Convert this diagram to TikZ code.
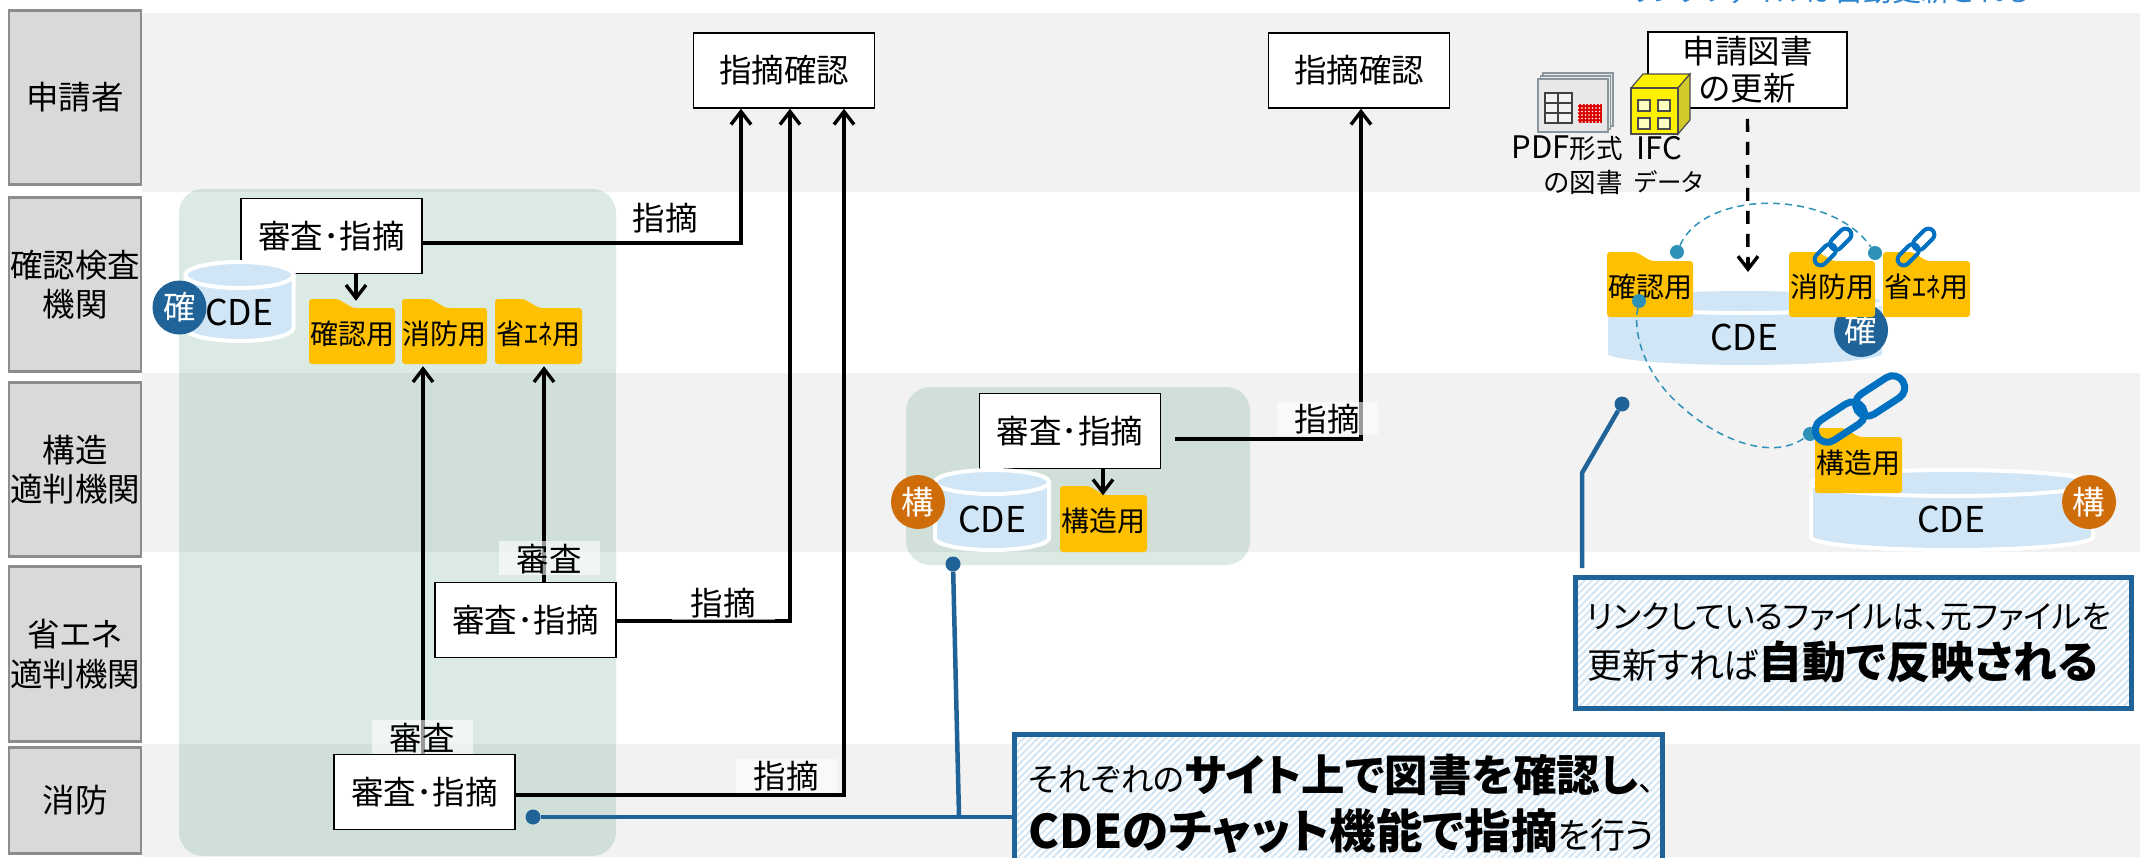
\documentclass[tikz,border=0pt]{standalone}
\usepackage{fontspec}
\setmainfont{Noto Sans CJK JP}[RawFeature=+palt]
\usetikzlibrary{arrows.meta,patterns.meta,calc}
\definecolor{bandgray}{HTML}{F2F2F2}
\definecolor{labelgray}{HTML}{D9D9D9}
\definecolor{labeledge}{HTML}{8C8C8C}
\definecolor{panelgreen}{RGB}{80,150,120}
\definecolor{cylblue}{HTML}{D0E5F5}
\definecolor{leadblue}{HTML}{1F6398}
\definecolor{kakuninblue}{HTML}{1F6398}
\definecolor{kozoorange}{HTML}{CE6D0A}
\definecolor{folderyellow}{HTML}{FFC000}
\definecolor{arcblue}{HTML}{2E91B8}
\definecolor{chainblue}{HTML}{0070C0}
\definecolor{hatchblue}{HTML}{D3E6F5}
\definecolor{topblue}{HTML}{2E86D0}
\definecolor{iconedge}{HTML}{8A979E}
\newcommand{\lat}[1]{{\fontsize{31pt}{34pt}\selectfont #1}}
\tikzset{
  txt/.style={font=\fontsize{32.5pt}{37pt}\selectfont,text=black,align=center,inner sep=0pt},
  laneband/.style={fill=bandgray,draw=none},
  lanelabel/.style={txt,font=\fontsize{32.5pt}{39.5pt}\selectfont,fill=labelgray,draw=labeledge,line width=2.5pt,minimum width=132pt},
  panel/.style={fill=panelgreen,fill opacity=.2,draw=none,rounded corners=24pt},
  stepbox/.style={txt,fill=white,draw=black,line width=1.5pt,minimum width=181pt,minimum height=75pt},
  arr/.style={line width=3.4pt,-{Straight Barb[length=13pt,width=20pt,line width=3.4pt]}},
  tag/.style={txt,minimum width=101pt,minimum height=33pt},
  tagbg/.style={fill=white,fill opacity=.6,draw=none},
  cyltext/.style={txt,font=\fontsize{35.5pt}{37pt}\selectfont},
  badge/.style={circle,minimum size=54pt,inner sep=0pt,font=\fontsize{32.5pt}{37pt}\selectfont,text=white},
  foldertext/.style={font=\fontsize{28pt}{30pt}\selectfont,text=black,inner sep=0pt},
  leadline/.style={line width=4.5pt,draw=leadblue},
  leaddot/.style={circle,fill=leadblue,minimum size=15pt,inner sep=0pt},
  arcline/.style={draw=arcblue,line width=1.5pt,dash pattern=on 7pt off 5pt},
  arcdot/.style={circle,fill=arcblue,minimum size=14pt,inner sep=0pt},
  callout/.style={draw=leadblue,line width=5pt,preaction={fill=white},
    pattern={Lines[angle=45,distance=5pt,line width=2pt]},pattern color=hatchblue,
    align=left,text=black},
  smalltxt/.style={font=\fontsize{26.5pt}{34pt}\selectfont,text=black,inner sep=0pt},
}
\newcommand{\cdecyl}[5]{% cx, top y, bottom y, rx, ry
  \path[fill=cylblue,draw=white,line width=4pt]
    ({#1-#4},#2) -- ({#1-#4},#3) arc[start angle=180,end angle=360,x radius=#4,y radius=-#5]
    -- ({#1+#4},#2) -- cycle;
  \path[fill=cylblue,draw=white,line width=4pt] (#1,#2) ellipse[x radius=#4,y radius=#5];
}
\newcommand{\filefolder}[6]{% name, x1,y1,x2,y2, text
  \fill[folderyellow,rounded corners=3pt] (#2,#3) -- ({#2+29},#3) -- ({#2+44},{#3+9}) -- (#4,{#3+9}) -- (#4,#5) -- (#2,#5) -- cycle;
  \node[foldertext,minimum width={(#4-#2)*1pt},minimum height={(#5-#3)*1pt}] (#1) at ({(#2+#4)/2},{(#3+#5)/2+2}) {#6};
}
\newcommand{\chainicon}[7]{% cx,cy,angle,lw,L,W,d
  \begin{scope}[shift={(#1,#2)},rotate=#3]
    \draw[chainblue,line width=#4pt,rounded corners={#6*0.5pt}] ({-#7-#5/2},{-#6/2}) rectangle ({-#7+#5/2},{#6/2});
    \draw[chainblue,line width=#4pt,rounded corners={#6*0.5pt}] ({#7-#5/2},{-#6/2}) rectangle ({#7+#5/2},{#6/2});
  \end{scope}
}
\begin{document}
\begin{tikzpicture}[x=1pt,y=-1pt]
\useasboundingbox (0,0) rectangle (2140,857);
\clip (0,0) rectangle (2140,857);
\fill[white] (0,0) rectangle (2140,857);
% lanes
\path[laneband] (142,13) rectangle (2140,192);
\path[laneband] (142,373) rectangle (2140,552);
\path[laneband] (142,744) rectangle (2140,857);
\node[lanelabel,minimum height=174pt] (l1) at (75,97.5) {申請者};
\node[lanelabel,minimum height=174pt] (l2) at (75,284.5) {確認検査\\機関};
\node[lanelabel,minimum height=174pt] (l3) at (75,469.5) {構造\\適判機関};
\node[lanelabel,minimum height=175pt] (l4) at (75,654) {省エネ\\適判機関};
\node[lanelabel,minimum height=106pt] (l5) at (75,800.5) {消防};
% top clipped note
\node[font=\fontsize{29pt}{33pt}\selectfont,text=topblue,inner sep=0pt] (note) at (1830,-9.5) {リンクファイルは自動更新される};
% green panels
\path[panel] (179,189) rectangle (616,856);
\path[panel] (906,387) rectangle (1250,565);
% review boxes
\node[stepbox] (conf1) at (784,70.5) {指摘確認};
\node[stepbox] (conf2) at (1359,70.5) {指摘確認};
\node[stepbox] (boxa) at (331.5,236) {審査･指摘};
\node[stepbox] (boxb) at (525.5,620) {審査･指摘};
\node[stepbox] (boxc) at (424.5,792) {審査･指摘};
\node[stepbox] (boxd) at (1070,431) {審査･指摘};
\node[txt,fill=white,draw=black,line width=1.5pt,minimum width=199pt,minimum height=76pt] (upd) at (1747.5,70) {申請図書\\の更新};
% cylinder, left
\cdecyl{239.5}{275}{328}{54}{13}
\node[cyltext] (cdea) at (239,312) {CDE};
\node[badge,fill=kakuninblue] (ba) at (179.5,307.5) {確};
\filefolder{fa}{309}{299}{395}{364}{確認用}
\filefolder{fb}{402}{299}{487}{364}{消防用}
\filefolder{fc}{495}{299}{582}{364}{省ｴﾈ用}
% cylinder, middle
\cdecyl{992}{482}{538}{57}{12}
\node[cyltext] (cdeb) at (992,519) {CDE};
\node[badge,fill=kozoorange] (bb) at (918,502) {構};
\filefolder{fd}{1060}{486}{1147}{552}{構造用}
% connectors
\draw[arr] ([xshift=4pt]fa.north |- boxa.south) -- ([xshift=4pt]fa.north);
\draw[arr] ([xshift=-1.5pt]boxc.north) -- ([xshift=-1.5pt]boxc.north |- fb.south);
\draw[arr] ([xshift=18.5pt]boxb.north) -- ([xshift=18.5pt]boxb.north |- fc.south);
\draw[arr] ([yshift=-7pt]boxa.east) -| ([xshift=-43pt]conf1.south);
\draw[arr] ([yshift=-1pt]boxb.east) -| ([xshift=6pt]conf1.south);
\draw[arr] ([yshift=-3pt]boxc.east) -| ([xshift=60pt]conf1.south);
\draw[arr] ([xshift=33pt]boxd.south) -- ++(0,26);
\draw[arr] ([xshift=14pt,yshift=-8pt]boxd.east) -| ([xshift=2pt]conf2.south);
% tags
\path[tagbg] (1277,402) rectangle (1378,435);
\node[tag] (t1) at (1327,419) {指摘};
\node[tag] (t2) at (665,218) {指摘};
\path[tagbg] (672,584) rectangle (775,620);
\node[tag] (t3) at (723,603) {指摘};
\path[tagbg] (736,759) rectangle (837,793);
\node[tag] (t4) at (786,776) {指摘};
\path[tagbg] (499,541) rectangle (600,575);
\node[tag] (t5) at (549,559) {審査};
\path[tagbg] (372,720) rectangle (473,754);
\node[tag] (t6) at (422,738) {審査};
% icons
\foreach \d in {5,2.5,0}{
  \path[fill=gray!18,draw=iconedge,line width=1.2pt] ({1538+\d},{79-\d*1.2}) rectangle ({1608+\d},{132-\d*1.2});
}
\draw[draw=black!75,fill=gray!10,line width=1.6pt] (1545,93) rectangle (1572,123);
\draw[black!75,line width=1.2pt] (1545,103) -- (1572,103) (1545,113) -- (1572,113) (1558,93) -- (1558,123);
\fill[red!85!black] (1578,104) rectangle (1602,123);
\path[pattern={Dots[distance=3.5pt,radius=.8pt]},pattern color=white] (1578,104) rectangle (1602,123);
\path[fill=yellow,draw=black!70,line width=1.2pt] (1631,88) -- (1643,74) -- (1690,74) -- (1678,88) -- cycle;
\path[fill=yellow!80!black,draw=black!70,line width=1.2pt] (1678,88) -- (1690,74) -- (1690,120) -- (1678,134) -- cycle;
\path[fill=yellow,draw=black!70,line width=1.5pt] (1631,88) rectangle (1678,134);
\foreach \wx in {1638,1658}{\foreach \wy in {100,118}{
  \path[fill=yellow!25,draw=black!70,line width=1.4pt] (\wx,\wy) rectangle ({\wx+12},{\wy+11});
}}
\node[smalltxt,anchor=east] (p1) at (1623,148) {\lat{PDF}形式};
\node[smalltxt,anchor=east] (p2) at (1623,182) {の図書};
\node[smalltxt,anchor=west] (p3) at (1636,148) {\lat{IFC}};
\node[smalltxt,anchor=west,font=\fontsize{24.5pt}{34pt}\selectfont] (p4) at (1634,182) {データ};
% right cylinder 1
\cdecyl{1745}{301}{355}{139}{12}
\node[cyltext] (cdec) at (1744,337) {CDE};
\node[badge,fill=kakuninblue] (bc) at (1861,330) {確};
\coordinate (cdetop) at (1748,272);
\draw[line width=3.4pt,dash pattern=on 13pt off 10pt] ([yshift=-10pt]upd.south) -- (cdetop);
\draw[line width=3.4pt,-{Straight Barb[length=13pt,width=20pt,line width=3.4pt]}] (1748,258) -- (cdetop);
\filefolder{fe}{1607}{252}{1693}{317}{確認用}
\filefolder{ff}{1789}{252}{1875}{317}{消防用}
\filefolder{fg}{1883}{252}{1970}{317}{省ｴﾈ用}
% right cylinder 2
\cdecyl{1952}{483}{537}{141}{13}
\node[cyltext] (cded) at (1951,519) {CDE};
\node[badge,fill=kozoorange] (bd) at (2089,502) {構};
\filefolder{fh}{1815}{428}{1902}{493}{構造用}
% dashed links
\node[arcdot] (dA) at (1677,252) {};
\node[arcdot] (dB) at (1875,253) {};
\node[arcdot] (dC) at (1639,301) {};
\node[arcdot] (dD) at (1810,434) {};
\draw[arcline] (dA) .. controls (1705,189) and (1831,189) .. (dB);
\draw[arcline] (dC) .. controls (1632,340) and (1650,380) .. (1682,407) .. controls (1715,437) and (1770,462) .. (dD);
% chains
\chainicon{1833}{247}{45}{4}{25}{12}{11}
\chainicon{1916}{247}{45}{4}{25}{12}{11}
\chainicon{1860}{409}{33}{7}{54}{24}{24}
% callouts
\node[callout,text width=619.5pt,inner xsep=14pt,inner ysep=0pt,minimum height=138pt,font=\fontsize{32.5pt}{57pt}\selectfont] (callA) at (1338.5,803.5)
 {それぞれの{\fontsize{43.5pt}{57pt}\selectfont\bfseries サイト上で図書を確認し}、\\{\fontsize{46.5pt}{57pt}\selectfont\bfseries CDEのチャット機能で指摘}{\fontsize{35pt}{57pt}\selectfont を行う}};
\node[callout,text width=532pt,inner xsep=12pt,inner ysep=0pt,minimum height=131pt,font=\fontsize{31.7pt}{50pt}\selectfont] (callB) at (1853,642.5)
 {リンクしているファイルは、元ファイルを\\{\fontsize{35pt}{50pt}\selectfont 更新すれば}{\fontsize{44pt}{50pt}\selectfont\bfseries 自動で反映される}};
% lead lines
\node[leaddot] (d1) at (533,817) {};
\node[leaddot] (d2) at (953,564) {};
\node[leaddot] (d3) at (1622,404) {};
\coordinate (j1) at (959,816);
\coordinate (b1) at (1582,473);
\coordinate (e1) at (1582,568);
\draw[leadline] (d1) -- (d1 -| callA.west);
\draw[leadline] (d2) -- (j1);
\draw[leadline] (d3) -- (b1) -- (e1);
\end{tikzpicture}
\end{document}
